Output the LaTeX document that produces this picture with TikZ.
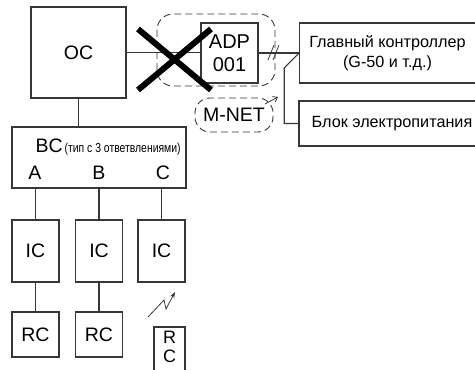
\documentclass[tikz,border=0pt]{standalone}
\usepackage{fontspec}
\setmainfont{Liberation Sans}
\usetikzlibrary{arrows.meta}
\definecolor{wireGray}{RGB}{55,55,55}

\begin{document}
\begin{tikzpicture}[x=1pt,y=-1pt,line width=1.1pt,draw=wireGray,
    unitbox/.style={draw=wireGray,rectangle,inner sep=0pt,font=\fontsize{19.5}{21}\selectfont},
    smalltext/.style={font=\fontsize{16.2}{19.5}\selectfont},
    groupline/.style={draw=wireGray,line width=0.9pt,dash pattern=on 7pt off 4pt,rounded corners=16pt}]
    \useasboundingbox (0,0) rectangle (475,370);
    \clip (0,0) rectangle (475,370);
    \node[unitbox,minimum width=95,minimum height=91] (oc) at (78.5,52.5) {OC};
    \node[unitbox,minimum width=57,minimum height=60,align=center,font=\fontsize{20}{23}\selectfont] (adp) at (229.5,53) {ADP\\001};
    \node[unitbox,minimum width=175.5,minimum height=60,align=center,smalltext] (gc) at (387.5,53) {Главный контроллер\\(G-50 и т.д.)};
    \node[unitbox,minimum width=186,minimum height=45,smalltext] (psu) at (392,123.5) {Блок электропитания};
    \node[unitbox,groupline,minimum width=78,minimum height=34,rounded corners=15pt] (mnet) at (234,115) {M-NET};
    \draw[groupline] (157,14) rectangle (275,86);
    \node[unitbox,minimum width=174,minimum height=61] (bc) at (99,157.5) {};
    \node[anchor=base west,font=\fontsize{19.5}{21}\selectfont,inner sep=0pt] (bcname) at (35,152)
      {BC\hspace{2pt}\scalebox{0.8}[1]{\fontsize{13}{15}\selectfont(тип с 3 ответвлениями)}};
    \foreach \n/\lab/\x in {a/A/35,b/B/99,c/C/163}{
      \node[font=\fontsize{19.5}{21}\selectfont,inner sep=0pt] (port\n) at (\x,173) {\lab};
    }
    \foreach \n/\x in {a/35.5,b/99,c/161.5}{
      \node[unitbox,minimum width=47,minimum height=62] (ic\n) at (\x,251) {IC};
      \draw (ic\n.north |- bc.south) -- (ic\n.north);
    }
    \foreach \n/\x in {a/35.5,b/99}{
      \node[unitbox,minimum width=47,minimum height=45] (rc\n) at (\x,334.5) {RC};
      \draw (ic\n) -- (rc\n);
    }
    \node[font=\fontsize{18}{19}\selectfont,inner sep=0pt] (rcwr) at (169.5,337.5) {R};
    \node[font=\fontsize{18}{19}\selectfont,inner sep=0pt] (rcwc) at (169.5,356.5) {C};
    \draw (154,385) |- (185,327) -- (185,385);
    \coordinate (wlstart) at (148,317);
    \coordinate (wlend) at (175,292);
    \draw[line width=0.8pt,-{Stealth[length=6pt,width=4.5pt]}] (wlstart) -- (164,300) -- (166,309) -- (wlend);
    \draw (oc.east) -- (oc.east -| adp.west);
    \draw (adp.east) -- (gc.west);
    \draw[line width=0.8pt] (268,60) -- (274,45) (273,60) -- (279,45);
    \draw (gc.west) -- ++(-15,15) |- (psu.west);
    \draw (oc.south) -- (oc.south |- bc.north);
    \draw[line width=0.8pt,-{Straight Barb[length=4pt,width=6pt]}] (265,104) -- (278,97);
    \draw[line width=6pt,black] (138,29) -- (211,90) (138,90) -- (211,29);
  \end{tikzpicture}
\end{document}
